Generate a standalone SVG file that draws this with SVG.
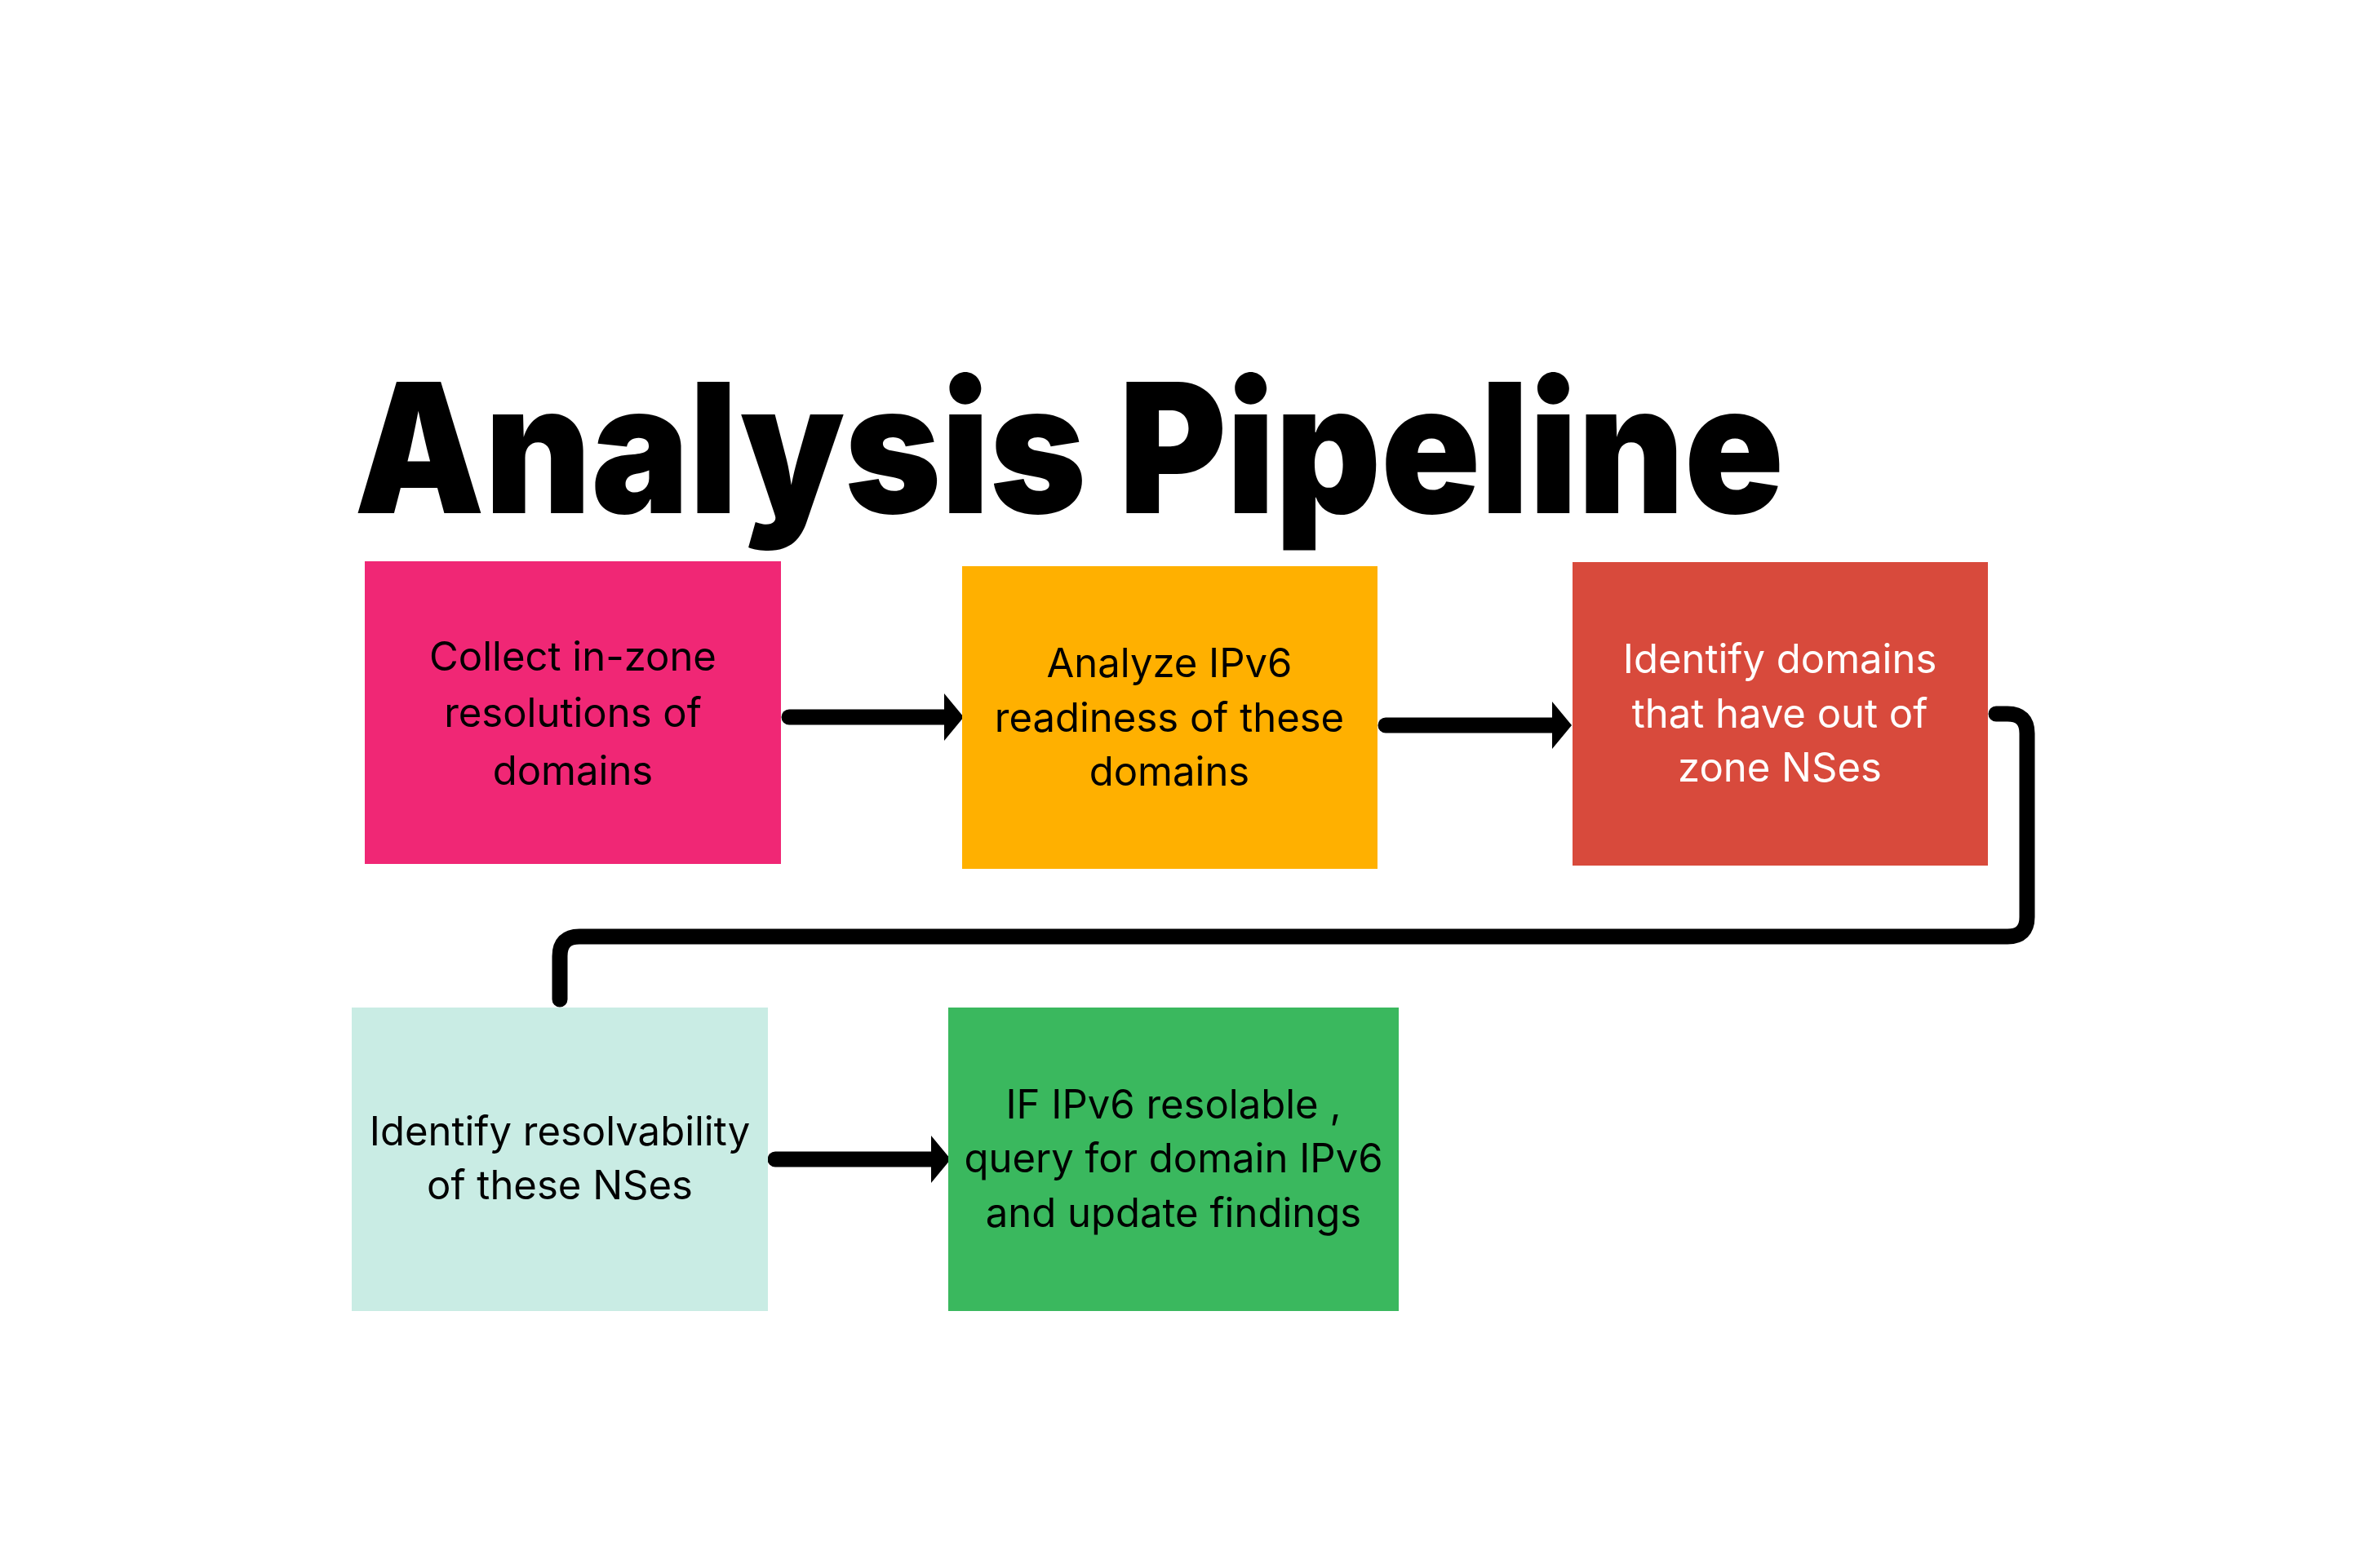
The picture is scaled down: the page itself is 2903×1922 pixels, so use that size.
<svg xmlns="http://www.w3.org/2000/svg" width="2903" height="1922" viewBox="0 0 2903 1922">
  <style>
    .title { font-family: Inter, "Liberation Sans", sans-serif; font-weight: 900; font-size: 221px; fill: #000; }
    .lbl { font-family: Inter, "Liberation Sans", sans-serif; font-size: 49px; text-anchor: middle; fill: #000; }
    .lbl.light { fill: #fff; }
    .wire { fill: none; stroke: #000; stroke-width: 19; stroke-linecap: round; stroke-linejoin: round; }
  </style>
  <defs>
    <marker id="head" viewBox="0 0 24 60" refX="0" refY="30" markerWidth="24" markerHeight="58" markerUnits="userSpaceOnUse" orient="auto" preserveAspectRatio="none">
      <path d="M0,0 L24,30 L0,60 Z" fill="#000"/>
    </marker>
  </defs>

  <rect width="2903" height="1922" fill="#fff"/>

  <text class="title" x="434" y="629" textLength="1752" lengthAdjust="spacingAndGlyphs">Analysis Pipeline</text>

  <g id="connectors">
    <path class="wire" d="M967,879 H1157" marker-end="url(#head)"/>
    <path class="wire" d="M1698,889 H1902" marker-end="url(#head)"/>
    <path class="wire" d="M2446,875 H2460 Q2484,875 2484,899 V1124 Q2484,1148 2460,1148 H710 Q686,1148 686,1172 V1225"/>
    <path class="wire" d="M950,1421 H1141" marker-end="url(#head)"/>
  </g>

  <g id="collect">
    <rect x="447" y="688" width="510" height="371" fill="#F02775"/>
    <text class="lbl" x="702" y="822">Collect in-zone</text>
    <text class="lbl" x="702" y="891">resolutions of</text>
    <text class="lbl" x="702" y="962">domains</text>
  </g>

  <g id="analyze">
    <rect x="1179" y="694" width="509" height="371" fill="#FFB000"/>
    <text class="lbl" x="1433" y="830">Analyze IPv6</text>
    <text class="lbl" x="1433" y="897">readiness of these</text>
    <text class="lbl" x="1433" y="963">domains</text>
  </g>

  <g id="identify-domains">
    <rect x="1927" y="689" width="509" height="372" fill="#D84A3C"/>
    <text class="lbl light" x="2181" y="825">Identify domains</text>
    <text class="lbl light" x="2181" y="892">that have out of</text>
    <text class="lbl light" x="2181" y="958">zone NSes</text>
  </g>

  <g id="identify-resolvability">
    <rect x="431" y="1235" width="510" height="372" fill="#C9ECE4"/>
    <text class="lbl" x="686" y="1404">Identify resolvability</text>
    <text class="lbl" x="686" y="1470">of these NSes</text>
  </g>

  <g id="query">
    <rect x="1162" y="1235" width="552" height="372" fill="#3AB85E"/>
    <text class="lbl" x="1438" y="1371">IF IPv6 resolable ,</text>
    <text class="lbl" x="1438" y="1437">query for domain IPv6</text>
    <text class="lbl" x="1438" y="1504">and update findings</text>
  </g>
</svg>
